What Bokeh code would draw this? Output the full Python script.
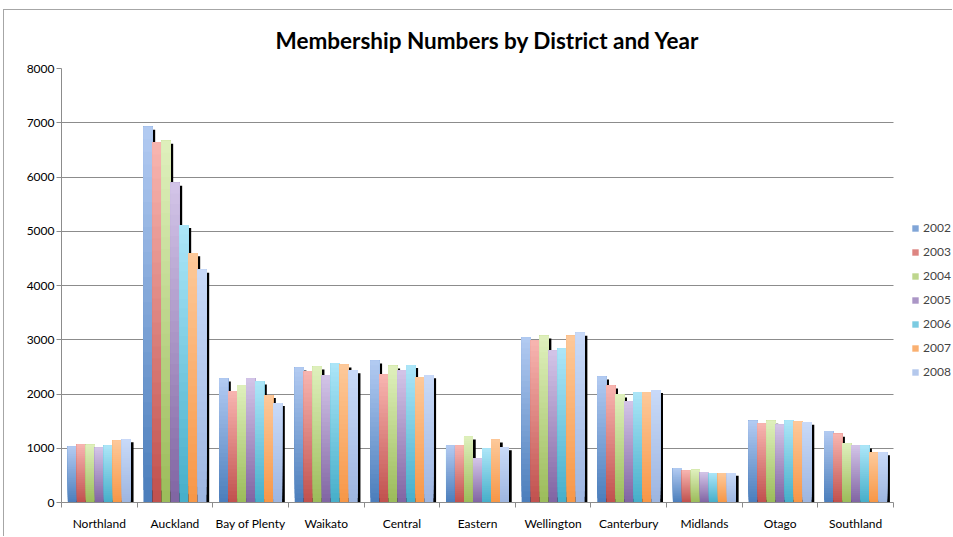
import numpy as np
from bokeh.plotting import figure
from bokeh.models import ColumnDataSource, FixedTicker, Legend, LegendItem, Range1d, BoxAnnotation
from bokeh.embed import file_html
from bokeh.resources import INLINE

districts = ["Northland", "Auckland", "Bay of Plenty", "Waikato", "Central", "Eastern",
             "Wellington", "Canterbury", "Midlands", "Otago", "Southland"]
years = ["2002", "2003", "2004", "2005", "2006", "2007", "2008"]
v2002 = [1030, 6925, 2285, 2487, 2616, 1050, 3045, 2321, 632, 1505, 1320]
v2003 = [1074, 6637, 2057, 2426, 2358, 1050, 2990, 2155, 589, 1461, 1265]
v2004 = [1063, 6668, 2161, 2505, 2523, 1216, 3076, 1989, 602, 1505, 1092]
v2005 = [1013, 5894, 2290, 2345, 2437, 810, 2800, 1866, 558, 1437, 1055]
v2006 = [1050, 5115, 2229, 2573, 2536, 995, 2837, 2039, 546, 1510, 1050]
v2007 = [1142, 4593, 1983, 2542, 2308, 1160, 3076, 2030, 540, 1499, 915]
v2008 = [1166, 4292, 1836, 2437, 2345, 1019, 3131, 2075, 546, 1486, 927]
series = [v2002, v2003, v2004, v2005, v2006, v2007, v2008]
y_ticks = [0, 1000, 2000, 3000, 4000, 5000, 6000, 7000, 8000]

# gradient colours (bottom, top) per year
bottom_cols = ["#4a7dbb", "#c0504d", "#9bbb59", "#8064a2", "#45aec9", "#f79646", "#9db5e0"]
top_cols = ["#b3cbf2", "#f8b6b1", "#dff0bd", "#d3c5e8", "#ade6f8", "#fdc99a", "#c9daf8"]

def hex2rgb(h):
    return np.array([int(h[i:i + 2], 16) for i in (1, 3, 5)], dtype=float)

def rgb2hex(c):
    return "#%02x%02x%02x" % tuple(int(round(v)) for v in c)

NB = 30
bar_w = 0.119
shadow_dx = 0.036
shadow_dy = 55
n = len(districts)
x_end = n * 892.0 / 832.0   # extra room on the right for the legend

p = figure(width=949, height=527, output_backend="svg", toolbar_location=None,
           x_range=Range1d(0, x_end), y_range=Range1d(0, 8000),
           min_border_left=57, min_border_right=0, min_border_top=57, min_border_bottom=35,
           title="Membership Numbers by District and Year",
           margin=(10, 0, 0, 4),
           styles={"box-shadow": "-1px -1px 0 0 #a6a6a6"})
p.outline_line_color = None
p.title.align = "left"
p.title.offset = 214
p.title.text_font = "Lato"
p.title.text_font_size = "22.5px"
p.title.text_font_style = "bold"
p.title.text_color = "black"
p.title.standoff = 29

# hide grid beyond the last category
p.add_layout(BoxAnnotation(left=n, fill_color="white", fill_alpha=1, line_color=None,
                           level="underlay"))

xc = np.arange(n) + 0.5

# shadows
for k, vals in enumerate(series):
    off = (k - 3) * bar_w
    src = ColumnDataSource(dict(x=xc + off + shadow_dx,
                                top=np.maximum(np.array(vals, float) - shadow_dy, 0)))
    p.vbar(x="x", top="top", bottom=0, width=bar_w, source=src,
           fill_color="black", line_color=None)

renderers = []
for k, vals in enumerate(series):
    off = (k - 3) * bar_w
    b = hex2rgb(bottom_cols[k]); t = hex2rgb(top_cols[k])
    xs, bots, tops, cols = [], [], [], []
    for j in range(NB):
        f = (j + 0.5) / NB
        c = rgb2hex(b * (1 - f) + t * f)
        for i, v in enumerate(vals):
            xs.append(xc[i] + off)
            bots.append(v * j / NB)
            tops.append(v)
            cols.append(c)
    src = ColumnDataSource(dict(x=xs, bottom=bots, top=tops, color=cols))
    r = p.vbar(x="x", bottom="bottom", top="top", width=bar_w, source=src,
               fill_color="color", line_color=None)
    renderers.append(r)

items = [LegendItem(label=years[k], renderers=[renderers[k]], index=(NB // 2) * n)
         for k in range(7)]
legend = Legend(items=items, location=(850, 123), padding=0, margin=0,
                glyph_width=8, glyph_height=8, label_height=14, spacing=9,
                label_standoff=4, label_text_font="Lato", label_text_font_size="12px",
                border_line_color=None, background_fill_alpha=0)
p.add_layout(legend, "center")

# axes
p.xaxis.ticker = FixedTicker(ticks=list(xc), minor_ticks=list(range(n + 1)))
p.xaxis.major_label_overrides = {float(x): d for x, d in zip(xc, districts)}
p.xaxis.bounds = (0, n)
p.xaxis.major_tick_out = 0
p.xaxis.major_tick_in = 0
p.xaxis.minor_tick_out = 5
p.xaxis.minor_tick_in = 0
p.xaxis.minor_tick_line_color = "#8c8c8c"
p.xaxis.major_label_standoff = 8
p.yaxis.ticker = FixedTicker(ticks=y_ticks)
p.yaxis.major_tick_out = 5
p.yaxis.major_tick_in = 0
p.yaxis.minor_tick_line_color = None
p.yaxis.major_label_standoff = 2
for ax in (p.xaxis, p.yaxis):
    ax.axis_line_color = "#8c8c8c"
    ax.major_tick_line_color = "#8c8c8c"
    ax.major_label_text_font = "Lato"
    ax.major_label_text_font_size = "12px"
    ax.major_label_text_color = "black"
p.xgrid.grid_line_color = None
p.ygrid.grid_line_color = "#8c8c8c"

open("out.html", "w").write(file_html(p, INLINE))
